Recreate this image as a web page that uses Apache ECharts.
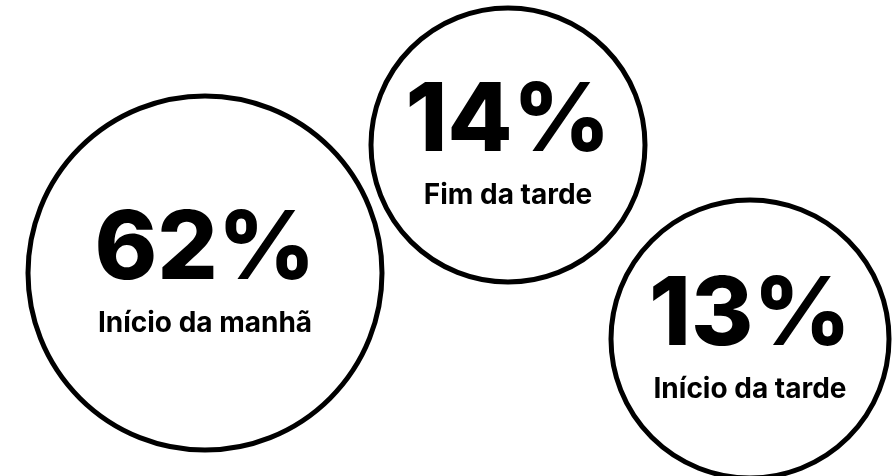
<!DOCTYPE html>
<html>
<head>
<meta charset="utf-8">
<style>
  html, body { margin: 0; padding: 0; background: #ffffff; }
  #chart { width: 895px; height: 476px; }
</style>
<script src="https://cdn.jsdelivr.net/npm/echarts@6/dist/echarts.min.js"></script>
</head>
<body>
<div id="chart"></div>
<script>
// Data
var categories = ['Início da manhã', 'Fim da tarde', 'Início da tarde'];
var values = [62, 14, 13];

// Layout (decorative bubble placement, in pixel-like axis units)
var layoutX = [205, 508, 750];
var layoutY = [273, 145, 339];
var layoutDiameter = [354, 274, 278];

var chart = echarts.init(document.getElementById('chart'), null, { renderer: 'canvas' });

var seriesData = categories.map(function (name, i) {
  return {
    name: name,
    value: [layoutX[i], layoutY[i], values[i]],
    symbolSize: layoutDiameter[i]
  };
});

var option = {
  backgroundColor: '#ffffff',
  animation: false,
  grid: { left: 0, right: 0, top: 0, bottom: 0 },
  xAxis: { type: 'value', min: 0, max: 895, show: false },
  yAxis: { type: 'value', min: 0, max: 476, inverse: true, show: false },
  series: [{
    type: 'scatter',
    symbol: 'circle',
    data: seriesData,
    itemStyle: { color: '#ffffff', borderColor: '#000000', borderWidth: 5, opacity: 1 },
    emphasis: { disabled: true },
    label: {
      show: true,
      position: 'inside',
      formatter: function (p) {
        return '{v|' + p.value[2] + '%}\n{n|' + p.name + '}';
      },
      rich: {
        v: {
          fontFamily: 'Inter',
          fontWeight: 800,
          fontSize: 95,
          color: '#000000',
          lineHeight: 102,
          align: 'center'
        },
        n: {
          fontFamily: 'Inter',
          fontWeight: 700,
          fontSize: 28,
          color: '#000000',
          lineHeight: 46,
          align: 'center'
        }
      }
    }
  }]
};

chart.setOption(option);
</script>
</body>
</html>
